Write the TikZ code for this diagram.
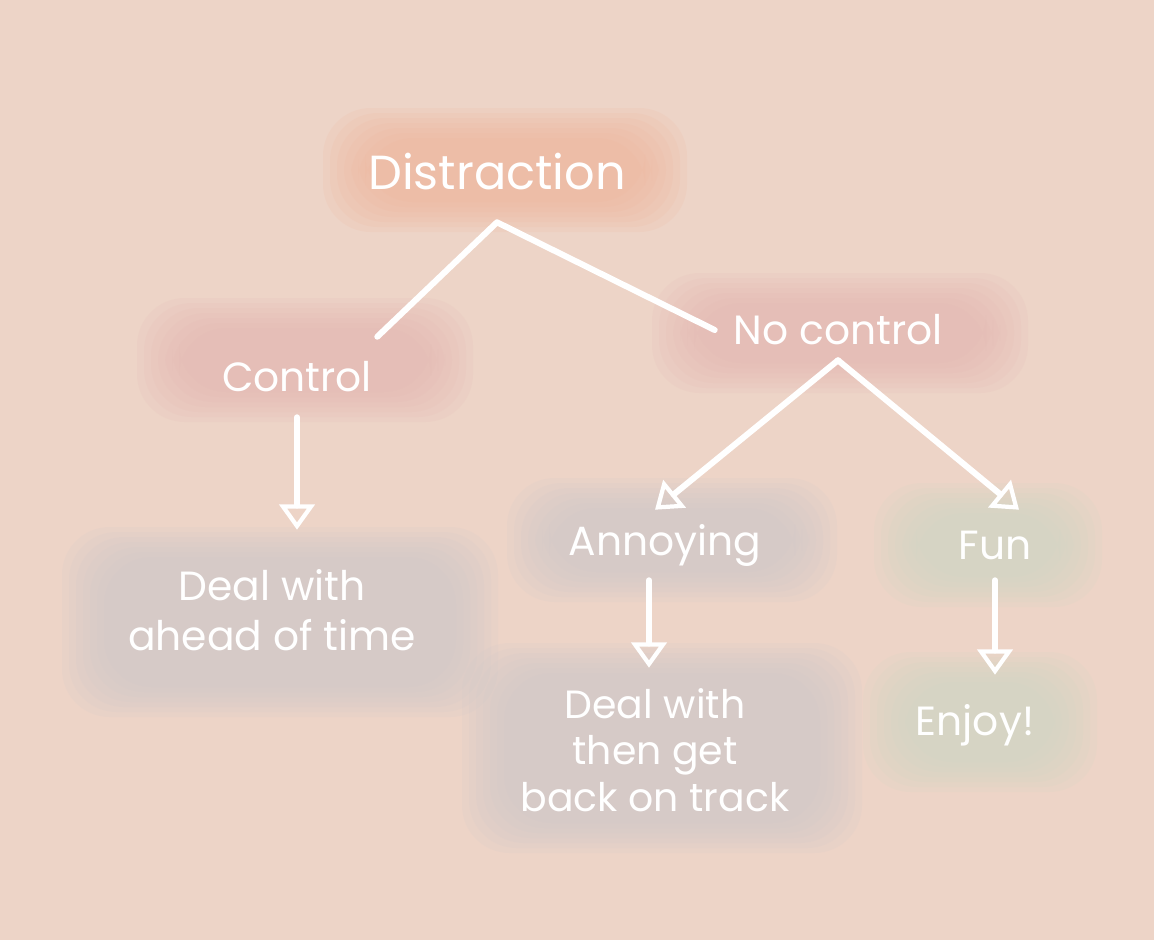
\documentclass[tikz,border=0pt]{standalone}
\usepackage{fontspec}
\setmainfont{Poppins}
\usetikzlibrary{arrows.meta, positioning}
\definecolor{paper}{RGB}{237,212,199}
\definecolor{peach}{RGB}{240,180,154}
\definecolor{rose}{RGB}{228,182,178}
\definecolor{slate}{RGB}{206,200,206}
\definecolor{sage}{RGB}{204,212,196}
\tikzset{
  label/.style={text=white, align=center, inner sep=0pt, font=\fontsize{29}{36}\selectfont},
  link/.style={draw=white, line width=4.3pt, line cap=round, line join=round},
  arrow/.style={link, -{Triangle[open, width=25pt, length=18pt, line width=3pt]}}
}
% soft chalky patch behind a label: centre x, centre y, half width, half height, colour
\newcommand{\smudge}[5]{%
  \foreach \k in {0,...,6}{
    \fill[#5, opacity=0.14, rounded corners=34pt]
      (#1-#3+\k*7, #2-#4+\k*5) rectangle (#1+#3-\k*7, #2+#4-\k*5);
  }
}

\begin{document}
\begin{tikzpicture}[x=0.025cm, y=-0.025cm]
  \fill[paper] (0,0) rectangle (1154,940);
  \useasboundingbox (0,0) rectangle (1154,940);

  % patches
  \smudge{505}{170}{182}{62}{peach}
  \smudge{305}{360}{168}{62}{rose}
  \smudge{840}{333}{188}{60}{rose}
  \smudge{280}{622}{218}{95}{slate}
  \smudge{672}{540}{165}{62}{slate}
  \smudge{988}{545}{114}{62}{sage}
  \smudge{662}{748}{200}{105}{slate}
  \smudge{980}{722}{117}{70}{sage}

  % labels
  \node (dist) [label, font=\fontsize{34}{40}\selectfont, minimum height=2.5cm] at (497,172) {Distraction};
  \node (ctrl) [label, minimum width=4cm, minimum height=2cm] at (297,377) {Control};
  \node (noctrl) [label, minimum width=6.15cm, minimum height=1.5cm] at (838,330) {No control};
  \node (ahead) [label, minimum height=4cm] at (272,610) {Deal with\\ahead of time};
  \node (annoy) [label, minimum height=1.75cm] at (665,545) {Annoying};
  \node (fun) [label, minimum height=1.75cm] at (995,545) {Fun};
  \node (track) [label, font=\fontsize{28}{33}\selectfont, minimum height=4.1cm] at (655,750) {Deal with\\then get\\back on track};
  \node (enjoy) [label, minimum height=2.5cm] at (975,725) {Enjoy!};

  % connectors
  \draw [link] (ctrl.north east) -- (dist.south) -- (noctrl.west);
  \draw [arrow] (ctrl.south) -- (ctrl.south |- ahead.north);
  \draw [arrow] (noctrl.south) -- ([xshift=-0.25cm]annoy.north);
  \draw [arrow] (noctrl.south) -- ([xshift=0.6cm]fun.north);
  \draw [arrow] ([xshift=-0.4cm]annoy.south) -- ([xshift=-0.4cm]annoy.south |- track.north);
  \draw [arrow] (fun.south) -- (fun.south |- enjoy.north);
\end{tikzpicture}
\end{document}
